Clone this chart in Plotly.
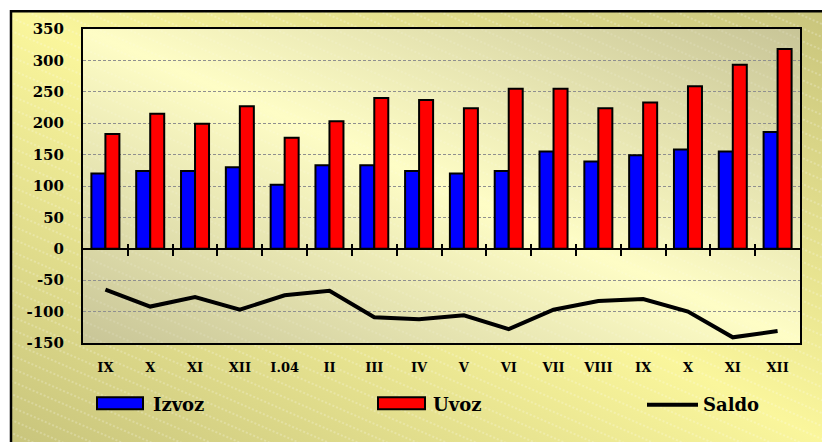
import base64
import plotly.graph_objects as go

# ---- data ----
categories = ["IX", "X", "XI", "XII", "I.04", "II", "III", "IV", "V", "VI",
              "VII", "VIII", "IX", "X", "XI", "XII"]
izvoz = [120, 124, 124, 130, 102, 133, 133, 124, 120, 124, 155, 139, 149, 158, 155, 186]
uvoz = [183, 215, 199, 227, 177, 203, 240, 237, 224, 255, 255, 224, 233, 259, 293, 318]
saldo = [-65, -92, -77, -97, -74, -67, -109, -112, -106, -128, -97, -83, -80, -100, -141, -131]
y_ticks = [-150, -100, -50, 0, 50, 100, 150, 200, 250, 300, 350]
y_tick_labels = ["-150", "-100", "-50", "0", "50", "100", "150", "200", "250", "300", "350"]
legend_names = ["Izvoz", "Uvoz", "Saldo"]

# page body has an 8px margin; work in screen pixels and convert
OFF = 8
W, H = 822, 434
SL, ST, SR, SB = 83, 25, 800, 343  # plot area in screen px
L, T = SL - OFF, ST - OFF
R, B = W - (SR - OFF), H - (SB - OFF)
PW, PH = SR - SL, SB - ST

FONT = "DejaVu Serif"


def px_to_paper_x(sx):
    return (sx - SL) / PW


def px_to_paper_y(sy):
    return (SB - sy) / PH


def grad_svg(w, h, dark, light, stripe_op):
    svg = f'''<svg xmlns="http://www.w3.org/2000/svg" width="{w}" height="{h}" viewBox="0 0 {w} {h}" preserveAspectRatio="none">
<defs>
<linearGradient id="g" x1="1" y1="0" x2="0" y2="1">
<stop offset="0" stop-color="{dark}"/>
<stop offset="0.5" stop-color="{light}"/>
<stop offset="1" stop-color="{dark}"/>
</linearGradient>
<pattern id="p" width="40" height="12" patternUnits="userSpaceOnUse" patternTransform="rotate(24)">
<line x1="0" y1="6" x2="40" y2="6" stroke="#ffffff" stroke-width="1" stroke-dasharray="2,2" opacity="{stripe_op}"/>
</pattern>
</defs>
<rect x="0" y="0" width="{w}" height="{h}" fill="url(#g)"/>
<rect x="0" y="0" width="{w}" height="{h}" fill="url(#p)"/>
</svg>'''
    return "data:image/svg+xml;base64," + base64.b64encode(svg.encode()).decode()


xs = list(range(len(categories)))

fig = go.Figure()
fig.add_trace(go.Bar(x=xs, y=izvoz, name=legend_names[0], marker=dict(color="#0000ff", line=dict(color="black", width=2))))
fig.add_trace(go.Bar(x=xs, y=uvoz, name=legend_names[1], marker=dict(color="#ff0000", line=dict(color="black", width=2))))
fig.add_trace(go.Scatter(x=xs, y=saldo, name=legend_names[2], mode="lines", line=dict(color="black", width=4)))
# helper invisible traces for zero-line tick axes
fig.add_trace(go.Scatter(x=[0], y=[0], xaxis="x2", mode="markers", marker=dict(opacity=0), showlegend=False, hoverinfo="skip"))
fig.add_trace(go.Scatter(x=[0], y=[0], xaxis="x3", mode="markers", marker=dict(opacity=0), showlegend=False, hoverinfo="skip"))

boundaries = [i + 0.5 for i in range(len(categories) - 1)]

# outer frame geometry (screen px)
ox0, oy0, ox1, oy1 = 11, 7, 840, 450
images = [
    dict(source=grad_svg(ox1 - ox0, oy1 - oy0, "#c8c47c", "#faf69c", 0.45),
         xref="paper", yref="paper", x=px_to_paper_x(ox0), y=px_to_paper_y(oy0),
         sizex=(ox1 - ox0) / PW, sizey=(oy1 - oy0) / PH, xanchor="left", yanchor="top",
         sizing="stretch", layer="below"),
    dict(source=grad_svg(PW, PH, "#c8c597", "#fefdc6", 0.25),
         xref="paper", yref="paper", x=0, y=1, sizex=1, sizey=1, xanchor="left", yanchor="top",
         sizing="stretch", layer="below"),
]

shapes = [
    dict(type="rect", xref="paper", yref="paper", x0=px_to_paper_x(ox0), x1=px_to_paper_x(ox1),
         y0=px_to_paper_y(oy1), y1=px_to_paper_y(oy0), line=dict(color="black", width=2.5),
         fillcolor="rgba(0,0,0,0)", layer="below"),
    # legend swatches
    dict(type="rect", xref="paper", yref="paper", x0=px_to_paper_x(97), x1=px_to_paper_x(143),
         y0=px_to_paper_y(410), y1=px_to_paper_y(398), fillcolor="#0000ff", line=dict(color="black", width=2)),
    dict(type="rect", xref="paper", yref="paper", x0=px_to_paper_x(378), x1=px_to_paper_x(425),
         y0=px_to_paper_y(410), y1=px_to_paper_y(398), fillcolor="#ff0000", line=dict(color="black", width=2)),
    dict(type="line", xref="paper", yref="paper", x0=px_to_paper_x(647), x1=px_to_paper_x(698),
         y0=px_to_paper_y(405.5), y1=px_to_paper_y(405.5), line=dict(color="black", width=4)),
]

annotations = [
    dict(text=f"<b>{legend_names[0]}</b>", xref="paper", yref="paper", x=px_to_paper_x(151), y=px_to_paper_y(405),
         xanchor="left", yanchor="middle", showarrow=False, font=dict(family=FONT, size=18, color="black")),
    dict(text=f"<b>{legend_names[1]}</b>", xref="paper", yref="paper", x=px_to_paper_x(431), y=px_to_paper_y(405),
         xanchor="left", yanchor="middle", showarrow=False, font=dict(family=FONT, size=18, color="black")),
    dict(text=f"<b>{legend_names[2]}</b>", xref="paper", yref="paper", x=px_to_paper_x(701), y=px_to_paper_y(405),
         xanchor="left", yanchor="middle", showarrow=False, font=dict(family=FONT, size=18, color="black")),
]

fig.update_layout(
    width=W, height=H,
    margin=dict(l=L, r=R, t=T, b=B, pad=0),
    paper_bgcolor="white",
    plot_bgcolor="rgba(0,0,0,0)",
    barmode="group", bargap=0.375, bargroupgap=0,
    showlegend=False,
    images=images, shapes=shapes, annotations=annotations,
    xaxis=dict(range=[-0.5, len(categories) - 0.5], tickvals=xs,
               ticktext=[f"<b>{c}</b>" for c in categories], ticks="", showgrid=False,
               showline=True, linecolor="black", linewidth=2, mirror=True, zeroline=False,
               tickfont=dict(family=FONT, size=13, color="black"), ticklabelstandoff=11),
    xaxis2=dict(range=[-0.5, len(categories) - 0.5], overlaying="x", anchor="free", position=0.3,
                tickvals=boundaries, ticktext=[""] * len(boundaries), ticks="outside", ticklen=6,
                tickwidth=2, tickcolor="black", showline=False, showgrid=False, zeroline=False),
    xaxis3=dict(range=[-0.5, len(categories) - 0.5], overlaying="x", anchor="free", position=0.3,
                tickvals=boundaries, ticktext=[""] * len(boundaries), ticks="inside", ticklen=5,
                tickwidth=2, tickcolor="black", showline=False, showgrid=False, zeroline=False),
    yaxis=dict(range=[-150, 350], tickvals=y_ticks, ticktext=[f"<b>{t}</b>" for t in y_tick_labels],
               ticks="", showgrid=True, gridcolor="#8f8f8f", griddash="3px,2px", gridwidth=1,
               zeroline=True, zerolinecolor="black", zerolinewidth=2,
               showline=True, linecolor="black", linewidth=2, mirror=True,
               tickfont=dict(family=FONT, size=15, color="black"), ticklabelstandoff=14),
)

fig.write_html("out.html", post_script="document.body.style.overflow='hidden';")
